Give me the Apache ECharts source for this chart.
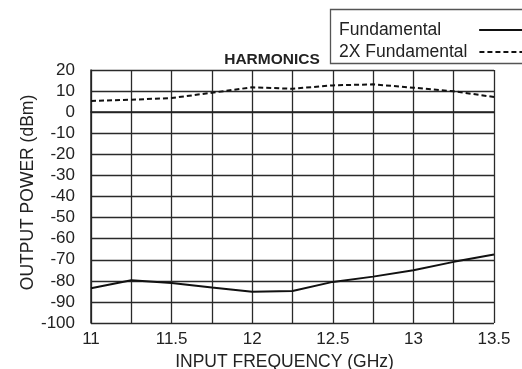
<!DOCTYPE html>
<html>
<head>
<meta charset="utf-8">
<script src="https://cdn.jsdelivr.net/npm/echarts@6/dist/echarts.min.js"></script>
<style>html,body{margin:0;padding:0;background:#fff}#c{width:522px;height:369px}</style>
</head>
<body>
<div id="c"></div>
<script>
var freqs = [11, 11.25, 11.5, 11.75, 12, 12.25, 12.5, 12.75, 13, 13.25, 13.5];
var fundamental = [-83.5, -79.7, -81, -83.2, -85.2, -84.8, -80.5, -78, -75, -71, -67.5];
var harmonic2x = [5.3, 5.9, 6.7, 9.2, 11.8, 11.1, 12.7, 13.2, 11.6, 9.9, 7.2];
var seriesNames = ['Fundamental', '2X Fundamental'];

var FONT = '"Liberation Sans", Arial, Helvetica, sans-serif';
function pairs(xs, ys) { return xs.map(function (x, i) { return [x, ys[i]]; }); }

function legendFor(name, top, padRight) {
  return {
    data: [name], orient: 'vertical', left: 339, top: top, align: 'right',
    itemWidth: 50, itemHeight: 14, itemGap: 4, padding: 0,
    itemStyle: {opacity: 0},
    textStyle: {fontFamily: FONT, fontSize: 17.5, color: '#222', padding: [0, padRight, 0, 0]}
  };
}

var chart = echarts.init(document.getElementById('c'), null, {renderer: 'canvas'});
chart.setOption({
  animation: false,
  backgroundColor: '#fff',
  textStyle: {fontFamily: FONT, color: '#222'},
  title: {
    text: 'HARMONICS', left: 267, top: 47, textAlign: 'center',
    textStyle: {fontFamily: FONT, fontSize: 15.5, fontWeight: 'bold', color: '#222'}
  },
  graphic: [{
    type: 'rect', shape: {x: 330.5, y: 9.5, width: 250, height: 54},
    style: {fill: 'none', stroke: '#555', lineWidth: 1.3}, z: 10
  }],
  legend: [legendFor(seriesNames[0], 21, 33), legendFor(seriesNames[1], 43, 7)],
  grid: {left: 91, top: 70, width: 403, height: 253, containLabel: false, outerBoundsMode: 'none'},
  xAxis: {
    type: 'value', min: 11, max: 13.5, interval: 0.25,
    name: 'INPUT FREQUENCY (GHz)', nameLocation: 'middle', nameGap: 30, nameMoveOverlap: false,
    nameTextStyle: {fontFamily: FONT, fontSize: 17.5, color: '#222', padding: [0, 16, 0, 0]},
    axisLine: {lineStyle: {color: '#222', width: 1.5}},
    axisTick: {show: false},
    axisLabel: {
      fontFamily: FONT, fontSize: 17, color: '#222', margin: 8, showMinLabel: true, showMaxLabel: true,
      formatter: function (v) { return Math.round(v * 4) % 2 === 0 ? String(v) : ''; }
    },
    splitLine: {show: true, lineStyle: {color: '#2a2a2a', width: 1.3}}
  },
  yAxis: {
    type: 'value', min: -100, max: 20, interval: 10,
    name: 'OUTPUT POWER (dBm)', nameLocation: 'middle', nameGap: 54, nameMoveOverlap: false,
    nameTextStyle: {fontFamily: FONT, fontSize: 17.5, color: '#222', padding: [0, 0, 0, 8]},
    axisLine: {show: true, lineStyle: {color: '#222', width: 1.5}},
    axisTick: {show: false},
    axisLabel: {fontFamily: FONT, fontSize: 17, color: '#222', margin: 16},
    splitLine: {show: true, lineStyle: {color: '#2a2a2a', width: 1.3}}
  },
  series: [{
    name: seriesNames[0], type: 'line', data: pairs(freqs, fundamental),
    symbol: 'none', lineStyle: {color: '#111', width: 2}, itemStyle: {color: '#111'}
  }, {
    name: seriesNames[1], type: 'line', data: pairs(freqs, harmonic2x),
    symbol: 'none', lineStyle: {color: '#111', width: 2, type: [5, 3]}, itemStyle: {color: '#111'}
  }]
});
</script>
</body>
</html>
